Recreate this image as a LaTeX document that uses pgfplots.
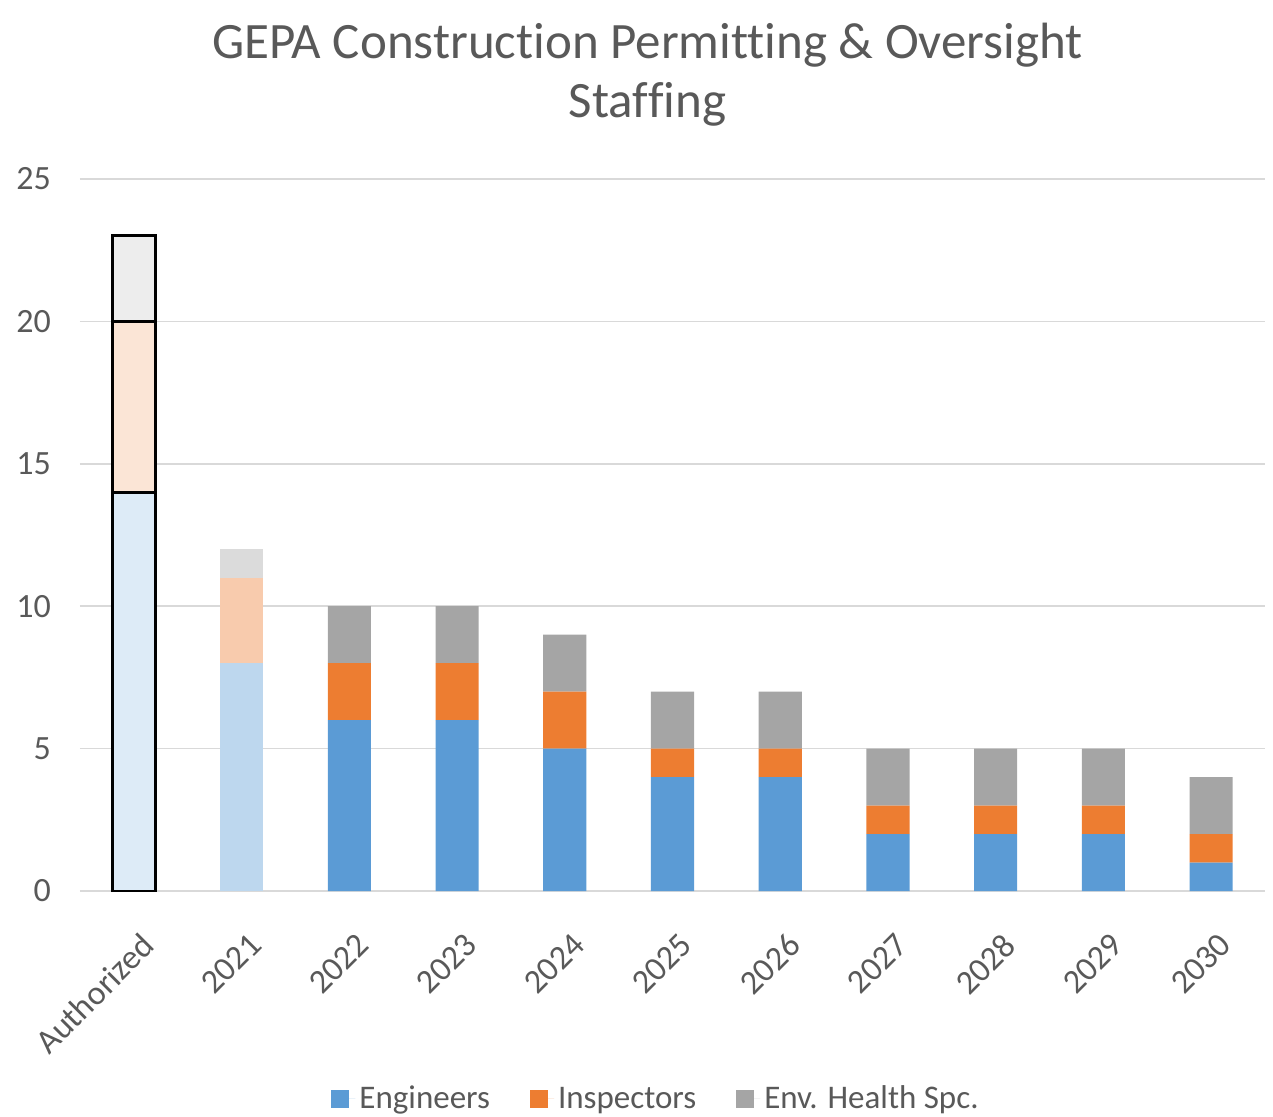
\documentclass[border=0pt]{standalone}
\usepackage{pgfplots}
\pgfplotsset{compat=1.18}
\usepackage{fontspec}
\setmainfont{Carlito}[Ligatures=NoCommon]
\definecolor{cBlue}{HTML}{5B9BD5}
\definecolor{cOrange}{HTML}{ED7D31}
\definecolor{cGray}{HTML}{A5A5A5}
\definecolor{aBlue}{HTML}{DDEBF7}
\definecolor{aOrange}{HTML}{FBE5D6}
\definecolor{aGray}{HTML}{EDEDED}
\definecolor{bBlue}{HTML}{BDD7EE}
\definecolor{bOrange}{HTML}{F8CBAD}
\definecolor{bGray}{HTML}{DBDBDB}
\definecolor{textgray}{HTML}{595959}
\definecolor{gridgray}{HTML}{D9D9D9}
\pgfplotsset{common/.style={scale only axis, width=592.5pt, height=356pt,
  xmin=-0.5, xmax=10.5, ymin=0, ymax=25, ybar stacked, bar width=0.4}}
\begin{document}
\begin{tikzpicture}
\begin{axis}[common,
  axis line style={draw=none},
  ymajorgrids, grid style={color=gridgray, line width=0.8pt},
  ytick={0,5,10,15,20,25},
  xtick={0,1,2,3,4,5,6,7,8,9,10},
  xticklabels={Authorized,2021,2022,2023,2024,2025,2026,2027,2028,2029,2030},
  major tick length=0pt,
  /pgf/number format/assume math mode=true,
  ticklabel style={font=\fontsize{17}{20}\selectfont, text=textgray},
  yticklabel style={anchor=east, xshift=-11pt},
  xticklabel style={inner sep=0pt, anchor=north east, xshift=3pt, yshift=-20pt, rotate=45},
  legend columns=3,
  legend style={draw=none, at={(0.487,-0.292)}, anchor=center,
    font=\fontsize{16.5}{19}\selectfont, text=textgray,
    /tikz/every even column/.append style={column sep=18pt}},
  legend image code/.code={\fill[#1] (0pt,-4.5pt) rectangle (9pt,4.5pt); \path (0pt,0pt) -- (12pt,0pt);},
]
\addplot[fill=cBlue, draw=none] coordinates {(2,6) (3,6) (4,5) (5,4) (6,4) (7,2) (8,2) (9,2) (10,1)};
\addplot[fill=cOrange, draw=none] coordinates {(2,2) (3,2) (4,2) (5,1) (6,1) (7,1) (8,1) (9,1) (10,1)};
\addplot[fill=cGray, draw=none] coordinates {(2,2) (3,2) (4,2) (5,2) (6,2) (7,2) (8,2) (9,2) (10,2)};
\legend{Engineers,Inspectors,Env. Health Spc.}
\end{axis}
\begin{axis}[common, hide axis]
\addplot[fill=aBlue, draw=black, line width=1.5pt] coordinates {(0,14)};
\addplot[fill=aOrange, draw=black, line width=1.5pt] coordinates {(0,6)};
\addplot[fill=aGray, draw=black, line width=1.5pt] coordinates {(0,3)};
\end{axis}
\begin{axis}[common, hide axis]
\addplot[fill=bBlue, draw=none] coordinates {(1,8)};
\addplot[fill=bOrange, draw=none] coordinates {(1,3)};
\addplot[fill=bGray, draw=none] coordinates {(1,1)};
\end{axis}
\node[font=\fontsize{25.5}{30}\selectfont, text=textgray, anchor=base] at (283.75pt,416.5pt) {GEPA Construction Permitting \& Oversight};
\node[font=\fontsize{25.5}{30}\selectfont, text=textgray, anchor=base] at (283.75pt,387pt) {Staffing};
\pgfresetboundingbox
\path (-40pt,-112.5pt) rectangle (596.5pt,445.5pt);
\end{tikzpicture}
\end{document}
